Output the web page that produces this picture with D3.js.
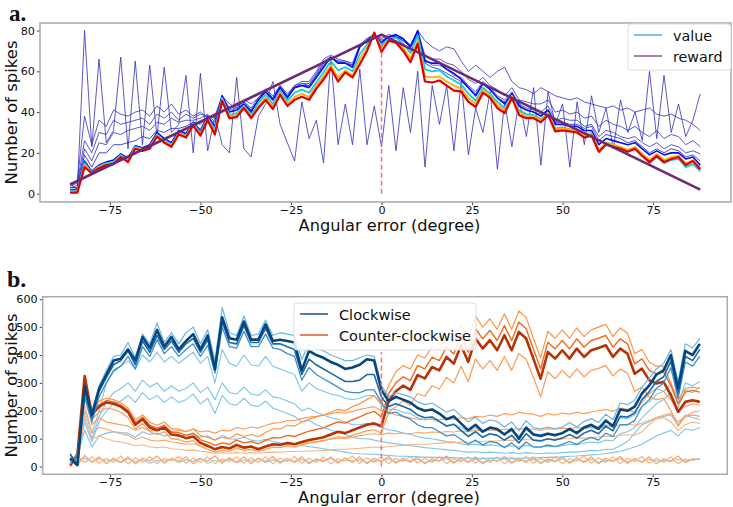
<!DOCTYPE html>
<html><head><meta charset="utf-8">
<script src="https://cdn.jsdelivr.net/npm/d3@7"></script>
<style>body{margin:0;background:#fff}svg{display:block}</style>
</head><body><svg id="c" width="733" height="507"></svg>
<script>
// ---------- shared x categories (angular error, degrees) ----------
const angles = [-86,-84,-82,-80,-78,-76,-74,-72,-70,-68,-66,-64,-62,-60,-58,-56,-54,-52,-50,-48,-46,-44,
 -42,-40,-38,-36,-34,-32,-30,-28,-26,-24,-22,-20,-18,-16,-14,-12,-10,-8,-6,-4,-2,0,
 2,4,6,8,10,12,14,16,18,20,22,24,26,28,30,32,34,36,38,40,42,44,
 46,48,50,52,54,56,58,60,62,64,66,68,70,72,74,76,78,80,82,84,86,88];
const xTicks = [-75,-50,-25,0,25,50,75];
const yTicksA = [0,20,40,60,80];
const yTicksB = [0,100,200,300,400,500,600];

// ---------- panel a: value curves ----------
const aRed = [0.5,0.5,13,10,12.5,14,14.5,18,15.5,22,21,22,28,25,23,29,27.5,33.5,28.5,36,29,45.5,
 37,37.5,42,37,42,46,41.5,48.5,43,46,47.5,46,51.5,56,61.5,55,59.5,57,63.5,70,79,69.5,
 75,74,70,64.5,73.5,55,54.5,55.5,53,50.5,50,45,42.5,49.5,47,42,39.5,47,38.5,37,37,35,
 38.5,30.5,31,30.5,30,27.5,28.5,20.5,24,23,22,20.5,22,18.5,15.5,18.5,15.5,17,18,14,16,12];
const aOrange = [1,1,14,10,13,14.5,15,18.5,16,22.5,21.5,22.5,28.5,25.5,23.5,29.5,28,34,29,36.5,30,46,
 38,38.5,42.5,37.5,43,47,42.5,49.5,44,47.5,49,47.5,53,57.5,63,57,60.5,58,66,71.5,79,71,
 75.5,75,71.5,66.5,75,57.5,57,57.5,55,53,51.5,47,44,51,48,43.5,41,48,40,38,38,36,
 39.5,31.5,32,31.5,31,28.5,29.5,21.5,25,24,23,21.5,23,19.5,16.5,19.5,16.5,18,18.5,15,16.5,12.5];
const aCyan = [1.5,1.5,15,10.5,13.5,15,15.5,19,16.5,23,22,23,29,26,24,30,28.5,34.5,30,37,31.5,47,
 38.5,39.5,43,38.5,44.5,48.5,44,50.5,45.5,49.5,51,49.5,54.5,59.5,65,60.5,62,60,68.5,73,78.5,72.5,
 76,76.5,73.5,69,77.5,61,60,60.5,57.5,55.5,53.5,49,45.5,52,49,45,42,48,41,39,38.5,36.5,
 39.5,32,32.5,31.5,31.5,29,29.5,21.5,25,24,22.5,21,22.5,19,15,18,15,16.5,17,13,14.5,11];
const aBlue = [2,2,16,11,14,15.5,16.5,19.5,17.5,23.5,22.5,24,30,27,25,31,29.5,35,31,38,33,48,
 40,41,44,40,46,50,46,52,47,52,53,52,57,62,67,64,64,62,72,75,78,74,
 77,78,76,72,80,65,64,64,61,59,56,52,48,54,51,47,44,49,43,41,40,38,
 41,34,34,33,33,31,31,24,27,26,25,24,25,22,19,21,19,20,20,17,18,14];
const aUpper1 = [5,6,38,24,36,33,41,39,38,40,41,38,43,40,44,39,41,38,40,37,38,48,
 44,42,46,44,47,51,48,53,49,53,55,55,60,66,68,66,65,64,73,76,78,76,
 78,77,76,73,80,75,72,70,72,71,65,60,63,60,57,60,62,55,52,51,49,52,
 50,48,47,46,47,45,44,43,42,43,41,42,40,41,42,39,38,39,37,36,34,31];
const aUpper2 = [4,5,26,20,30,29,36,34,35,36,37,34,39,37,40,36,39,37,39,38,37,48,
 42,43,45,42,47,51,47,53,48,53,54,54,59,65,67,65,65,63,73,76,78,75,
 77,78,76,72,79,68,66,66,64,63,60,56,54,57,53,51,48,52,46,45,44,44,
 46,40,41,39,40,37,38,33,36,34,33,31,33,30,28,31,27,29,28,24,26,23];
const aUpper3 = [3,4,22,16,25,24,30,29,31,32,33,31,35,34,37,35,36,36,37,39,35,48,
 41,42,45,41,46,50,47,52,48,52,54,53,58,64,67,65,64,63,72,75,78,75,
 77,77,75,72,78,66,63,63,61,58,57,53,50,55,52,48,46,50,44,42,41,40,
 43,36,37,36,36,33,34,28,31,30,28,27,28,25,23,25,22,24,23,20,21,19.5];
const aUpper4 = [3,3,19,13,20,20,24,24,25,26,28,27,31,30,32,32,33,35,34,38,33,47,
 40,41,44,41,46,50,46,52,47,52,53,53,58,63,67,64,64,62,72,75,78,74,
 77,77,75,72,77,64,62,61,59,57,55,52,49,54,51,47,45,49,43,41,40,39,
 41,35,35,34,34,32,33,26,29,28,27,25,26,23,20,22,20,22,21,18,19,16];
const aWild = [5,2,80,23,66,25,31,67,22,65,24,63,28,62,30,34,58,20,59,21,38,24,
 20,57,22,18,38,44,55,34,25,16,45,27,36,15,67,24,44,24,61,24,43,23,
 53,21,52,30,60,13,53,34,53,21,55,19,42,30,50,12,45,23,46,28,52,14,
 50,34,44,13,45,24,48,30,42,22,46,30,40,26,60,27,58,30,44,28,36,49];
const rewardAngles = [-86,0,88];
const rewardValues = [4.5,78,2];

// ---------- panel b: clockwise (blue) ----------
const bCore = [30,5,290,185,280,330,380,387,420,380,465,425,490,430,465,420,450,475,420,470,350,535,
 460,455,520,455,455,510,450,455,450,445,345,415,400,390,375,365,350,355,365,385,380,275,
 235,250,240,230,210,200,205,190,170,180,155,130,150,125,140,135,115,135,100,140,115,110,
 118,112,120,135,120,140,150,135,165,145,205,200,215,262,290,330,345,400,280,415,400,440];
const bMid = [45,5,270,175,270,320,365,380,415,365,450,410,470,420,450,410,440,460,410,455,345,520,
 445,440,505,445,445,495,440,440,430,420,330,385,365,350,335,320,305,305,310,330,330,250,
 215,225,215,205,185,175,178,162,145,152,130,108,125,105,118,112,95,112,85,118,95,92,
 100,95,102,115,102,120,130,118,145,128,180,178,192,240,268,305,322,378,262,395,380,420];
const bLow = [20,40,250,160,250,300,345,360,395,350,430,395,455,405,430,395,420,440,395,435,335,500,
 430,425,485,430,430,475,425,420,405,395,310,355,330,315,300,285,270,265,265,275,275,230,
 190,195,180,170,150,140,140,125,110,115,98,80,95,78,90,85,68,85,62,88,70,70,
 78,72,80,90,80,95,105,95,120,108,150,150,165,215,240,280,300,355,245,375,360,395];
const bTop = [10,45,240,200,290,345,395,400,445,390,475,440,515,445,480,440,480,500,440,490,380,570,
 480,470,540,470,475,525,470,480,475,470,385,440,425,415,400,390,380,380,390,400,395,290,
 250,265,258,250,232,222,228,212,195,205,182,160,178,155,168,162,142,160,128,165,140,135,
 142,135,142,158,142,162,172,158,188,168,228,222,238,285,315,350,370,420,305,440,425,460];
const bLight1 = [20,10,200,120,200,300,340,360,380,350,400,375,410,375,395,370,390,410,370,395,300,420,
 370,360,400,365,360,395,360,350,340,330,270,300,280,270,260,255,245,240,245,255,255,220,
 205,205,195,190,175,168,170,160,148,152,140,128,138,125,132,128,118,128,112,130,118,115,
 120,116,122,130,122,135,140,132,150,140,175,172,185,215,232,258,270,295,225,300,290,305];
const bLight2 = [15,30,180,100,180,230,265,280,300,270,310,285,300,270,290,270,280,300,265,285,240,300,
 265,260,285,260,255,275,250,245,235,225,200,210,195,185,175,170,160,150,150,155,150,140,
 132,128,120,115,108,102,100,95,90,88,82,78,80,76,78,75,72,75,70,76,72,70,
 73,72,75,80,78,84,88,85,95,92,118,125,140,175,200,225,240,265,210,275,265,285];
const bLight3 = [40,20,160,90,160,200,225,235,255,230,265,240,255,230,250,230,240,260,225,245,190,255,
 225,220,245,220,215,235,210,200,190,180,160,165,150,140,130,125,115,105,100,100,95,90,
 85,82,78,75,72,68,66,63,60,58,55,52,53,50,52,50,48,50,47,50,48,47,
 49,48,50,52,52,55,58,57,62,62,75,90,120,150,160,175,180,185,150,185,175,170];
const bLight4 = [10,35,130,70,110,120,125,122,120,105,125,115,120,110,115,110,112,118,105,110,95,112,
 100,98,105,95,92,98,90,85,82,80,75,72,68,64,60,56,52,48,46,45,44,42,
 40,38,37,36,35,34,33,33,32,32,31,31,30,30,31,30,30,31,30,31,31,32,
 33,34,35,37,38,40,42,44,47,50,55,62,70,80,95,110,120,130,110,135,130,140];
const bLightZero = [25,20,30,18,28,20,25,15,28,18,25,12,22,20,28,15,25,18,30,12,22,20,
 26,14,24,20,28,15,25,18,22,20,26,15,24,20,28,18,22,20,25,15,22,20,
 28,16,24,20,26,14,22,20,28,16,24,18,26,15,22,20,28,16,24,20,26,14,
 22,20,28,16,24,18,26,15,22,20,28,16,24,18,26,20,22,18,26,20,25,28];

// ---------- panel b: counter-clockwise (orange) ----------
const oCore = [5,45,325,185,215,230,225,215,195,150,170,140,130,140,115,112,102,108,85,75,62,70,
 65,78,68,72,62,72,80,78,85,80,88,95,100,105,115,125,120,130,140,150,155,145,
 235,270,290,275,328,316,357,345,393,369,435,375,459,423,453,417,471,417,483,459,387,315,
 411,387,417,387,423,393,417,425,435,393,423,405,333,351,310,298,304,256,196,232,238,232];
const oMid = [10,40,315,190,222,237,232,220,202,158,177,148,138,148,123,122,112,120,96,88,76,85,
 80,95,85,90,82,94,104,103,112,108,118,127,133,139,150,160,156,168,178,190,198,178,
 262,300,322,308,362,350,392,380,428,404,470,410,494,458,488,452,506,452,518,494,422,350,
 446,422,452,422,458,428,452,460,470,428,458,440,368,386,345,333,339,291,225,267,273,267];
const oHigh = [0,40,300,200,235,245,240,228,210,168,185,158,148,160,135,135,125,135,112,105,95,105,
 100,118,108,115,108,122,135,135,148,145,160,170,178,185,195,205,200,215,225,240,255,225,
 290,340,362,350,400,390,430,420,465,445,510,450,540,500,530,492,548,492,558,535,460,390,
 485,460,490,460,497,466,490,500,510,466,497,478,405,420,375,360,360,300,240,280,285,280];
const oLow = [15,35,280,170,195,210,205,195,175,135,155,125,115,125,100,97,88,93,72,62,52,58,
 55,66,58,62,54,62,70,68,75,70,78,84,88,92,100,108,104,112,120,128,132,120,
 195,215,235,220,262,252,290,278,320,300,360,305,385,350,380,345,395,345,405,385,320,250,
 340,315,345,318,350,322,345,352,362,325,350,335,270,285,250,240,245,200,145,180,185,180];
const oLight1 = [30,15,250,150,175,160,155,150,145,130,140,128,130,135,125,130,125,135,125,128,120,130,
 128,140,135,142,138,148,155,158,165,165,172,178,180,185,190,195,192,198,205,210,215,200,
 195,185,180,175,170,168,170,168,172,170,175,172,180,178,185,180,190,185,195,190,188,180,
 190,185,192,188,195,190,196,200,205,198,210,205,195,230,260,280,270,240,200,215,225,220];
const oLight2 = [5,30,220,120,140,135,125,118,112,98,105,95,92,95,88,85,80,82,75,70,65,68,
 65,70,66,70,66,72,76,76,80,80,84,88,90,94,98,102,100,105,110,115,118,115,
 120,118,120,118,122,120,124,122,126,124,128,125,130,128,132,130,134,132,136,135,134,130,
 136,134,138,136,140,138,142,145,148,145,150,152,148,155,165,175,185,190,160,180,195,200];
const oLight3 = [45,5,180,100,110,100,92,88,82,75,78,70,68,70,64,62,58,60,55,52,48,50,
 48,50,48,50,48,50,52,52,54,54,55,56,57,58,60,62,62,64,66,68,70,68,
 72,74,76,78,80,80,82,84,86,86,88,88,90,90,92,92,94,94,96,96,96,94,
 98,98,100,100,102,102,104,106,108,108,112,115,112,125,150,170,175,160,130,150,160,155];
const oZero1 = [45,5,40,15,35,10,30,15,35,10,30,20,38,12,30,18,35,10,28,20,38,12,
 32,15,35,10,30,18,36,12,30,15,35,10,28,18,35,12,32,15,35,10,30,18,
 36,12,30,15,35,10,28,20,38,12,32,15,35,10,30,18,36,12,30,15,35,10,
 28,18,35,12,32,15,35,10,30,18,36,12,30,15,35,10,28,20,38,14,28,25];
const oZero2 = [0,40,15,35,12,30,15,38,10,32,15,35,10,30,20,36,12,30,15,35,10,28,
 18,35,12,32,15,35,10,30,18,36,12,30,15,35,10,28,20,38,12,32,15,35,
 10,30,18,36,12,30,15,35,10,28,18,35,12,32,15,35,10,30,18,36,12,30,
 15,35,10,28,20,38,12,32,15,35,10,30,18,36,12,30,15,35,10,28,22,28];

// ---------- drawing ----------
const svg = d3.select("#c");
const FONT = "DejaVu Sans, Liberation Sans, sans-serif";

function panel(opt) {
  const {x, y, yTicks, title, titleX, titleY, titleSize, xlabelY} = opt;
  const g = svg.append("g");
  const [x0, x1] = x.range(), [y0, y1] = y.range();
  const xa = g.append("g").attr("transform", `translate(0,${y0})`)
    .call(d3.axisBottom(x).tickValues(xTicks).tickSize(3).tickPadding(1));
  const ya = g.append("g").attr("transform", `translate(${x0},0)`)
    .call(d3.axisLeft(y).tickValues(yTicks).tickSize(3).tickPadding(2));
  [xa, ya].forEach(a => {
    a.select(".domain").remove();
    a.selectAll("line").attr("stroke", "#444");
    a.selectAll("text").attr("font-family", FONT).attr("font-size", 11.2).attr("fill", "#111");
  });
  g.append("text").attr("x", (x0 + x1) / 2 + 4).attr("y", xlabelY).attr("text-anchor", "middle")
    .attr("font-family", FONT).attr("font-size", 16.2).attr("fill", "#111").text("Angular error (degree)");
  g.append("text").attr("transform", `translate(17,${(y0 + y1) / 2}) rotate(-90)`).attr("text-anchor", "middle")
    .attr("font-family", FONT).attr("font-size", 16.5).attr("fill", "#111").text("Number of spikes");
  g.append("text").attr("x", titleX).attr("y", titleY).attr("font-family", "Liberation Serif, serif")
    .attr("font-weight", "bold").attr("font-size", titleSize).attr("fill", "#111").text(title);
  const plot = g.append("g");
  g.append("rect").attr("x", x0).attr("y", y1).attr("width", x1 - x0).attr("height", y0 - y1)
    .attr("fill", "none").attr("stroke", "#a8a8a8").attr("stroke-width", 1.5);
  return {g, plot};
}

function drawSeries(plot, x, y, list) {
  const line = d3.line().x((d, i) => x(angles[i])).y(d => y(d));
  list.forEach(s => {
    plot.append("path").datum(s.v).attr("d", line).attr("fill", "none")
      .attr("stroke", s.c).attr("stroke-width", s.w).attr("stroke-opacity", s.o == null ? 1 : s.o)
      .attr("stroke-linejoin", "round");
  });
}

function legend(g, x0, y0, w, h, items, fs) {
  const lg = g.append("g");
  lg.append("rect").attr("x", x0).attr("y", y0).attr("width", w).attr("height", h).attr("rx", 3)
    .attr("fill", "#fff").attr("fill-opacity", 0.85).attr("stroke", "#dcdcdc").attr("stroke-width", 1);
  items.forEach((it, i) => {
    const yy = y0 + 11 + i * 21;
    lg.append("line").attr("x1", x0 + 6).attr("x2", x0 + 34).attr("y1", yy).attr("y2", yy)
      .attr("stroke", it.c).attr("stroke-width", 1.6);
    lg.append("text").attr("x", x0 + 45).attr("y", yy + 5.5).attr("font-family", FONT)
      .attr("font-size", fs).attr("fill", "#111").text(it.t);
  });
}

// ---- Panel a ----
const ax = d3.scaleLinear().domain([-94.3, 96.5]).range([40, 731]);
const ay = d3.scaleLinear().domain([-4.1, 83.7]).range([202, 23]);
const A = panel({x: ax, y: ay, yTicks: yTicksA, title: "a.", titleX: 9, titleY: 20.5, titleSize: 23, xlabelY: 231});
drawSeries(A.plot, ax, ay, [
  {v: aWild, c: "#3030b8", w: 1, o: 0.8},
  {v: aUpper1, c: "#3030c0", w: 1, o: 0.8},
  {v: aUpper2, c: "#3030c0", w: 1, o: 0.8},
  {v: aUpper3, c: "#3030c8", w: 1, o: 0.8},
  {v: aUpper4, c: "#2828d0", w: 1, o: 0.85},
  {v: aBlue, c: "#0010f0", w: 1.6},
  {v: aCyan, c: "#10c8f0", w: 1.8},
  {v: aOrange, c: "#ffb000", w: 1.8},
  {v: aRed, c: "#e00000", w: 2.2}
]);
A.plot.append("path").datum(rewardValues)
  .attr("d", d3.line().x((d, i) => ax(rewardAngles[i])).y(d => ay(d)))
  .attr("fill", "none").attr("stroke", "#6e2a70").attr("stroke-width", 2.6);
A.plot.append("line").attr("x1", ax(0)).attr("x2", ax(0)).attr("y1", ay(0)).attr("y2", ay(rewardValues[1]))
  .attr("stroke", "#ff7070").attr("stroke-width", 1.5).attr("stroke-dasharray", "5,3");
legend(A.g, 628, 24, 103, 46, [{t: "value", c: "#5ab4f0"}, {t: "reward", c: "#9a5c9c"}], 14.3);

// ---- Panel b ----
const bx = d3.scaleLinear().domain([-93.6, 95.6]).range([42.7, 727.3]);
const by = d3.scaleLinear().domain([-27.6, 609]).range([474.3, 296.7]);
const B = panel({x: bx, y: by, yTicks: yTicksB, title: "b.", titleX: 7, titleY: 287, titleSize: 24, xlabelY: 503});
drawSeries(B.plot, bx, by, [
  {v: bLightZero, c: "#8ccbea", w: 1.1},
  {v: oZero1, c: "#fda060", w: 1.2},
  {v: oZero2, c: "#fdb27a", w: 1.2},
  {v: bLight4, c: "#7cc4e8", w: 1.1},
  {v: bLight3, c: "#7cc4e8", w: 1.1},
  {v: bLight2, c: "#7cc4e8", w: 1.1},
  {v: bLight1, c: "#7cc4e8", w: 1.1},
  {v: oLight3, c: "#fdb47c", w: 1.1},
  {v: oLight2, c: "#fda466", w: 1.1},
  {v: oLight1, c: "#fd9a55", w: 1.1},
  {v: oHigh, c: "#fd9448", w: 1.2},
  {v: oLow, c: "#fd9a52", w: 1.2},
  {v: oMid, c: "#f26a1e", w: 1.4},
  {v: oCore, c: "#b83206", w: 2.6},
  {v: bTop, c: "#6bb6e0", w: 1.2},
  {v: bLow, c: "#3a90c8", w: 1.3},
  {v: bMid, c: "#1a6aaa", w: 1.6},
  {v: bCore, c: "#08457e", w: 2.6}
]);
B.plot.append("line").attr("x1", bx(0)).attr("x2", bx(0)).attr("y1", by(0)).attr("y2", by(410))
  .attr("stroke", "#ff7070").attr("stroke-width", 1.5).attr("stroke-dasharray", "5,3");
legend(B.g, 294, 303, 182, 47, [{t: "Clockwise", c: "#2a5f95"}, {t: "Counter-clockwise", c: "#e0613a"}], 14.5);
</script></body></html>
